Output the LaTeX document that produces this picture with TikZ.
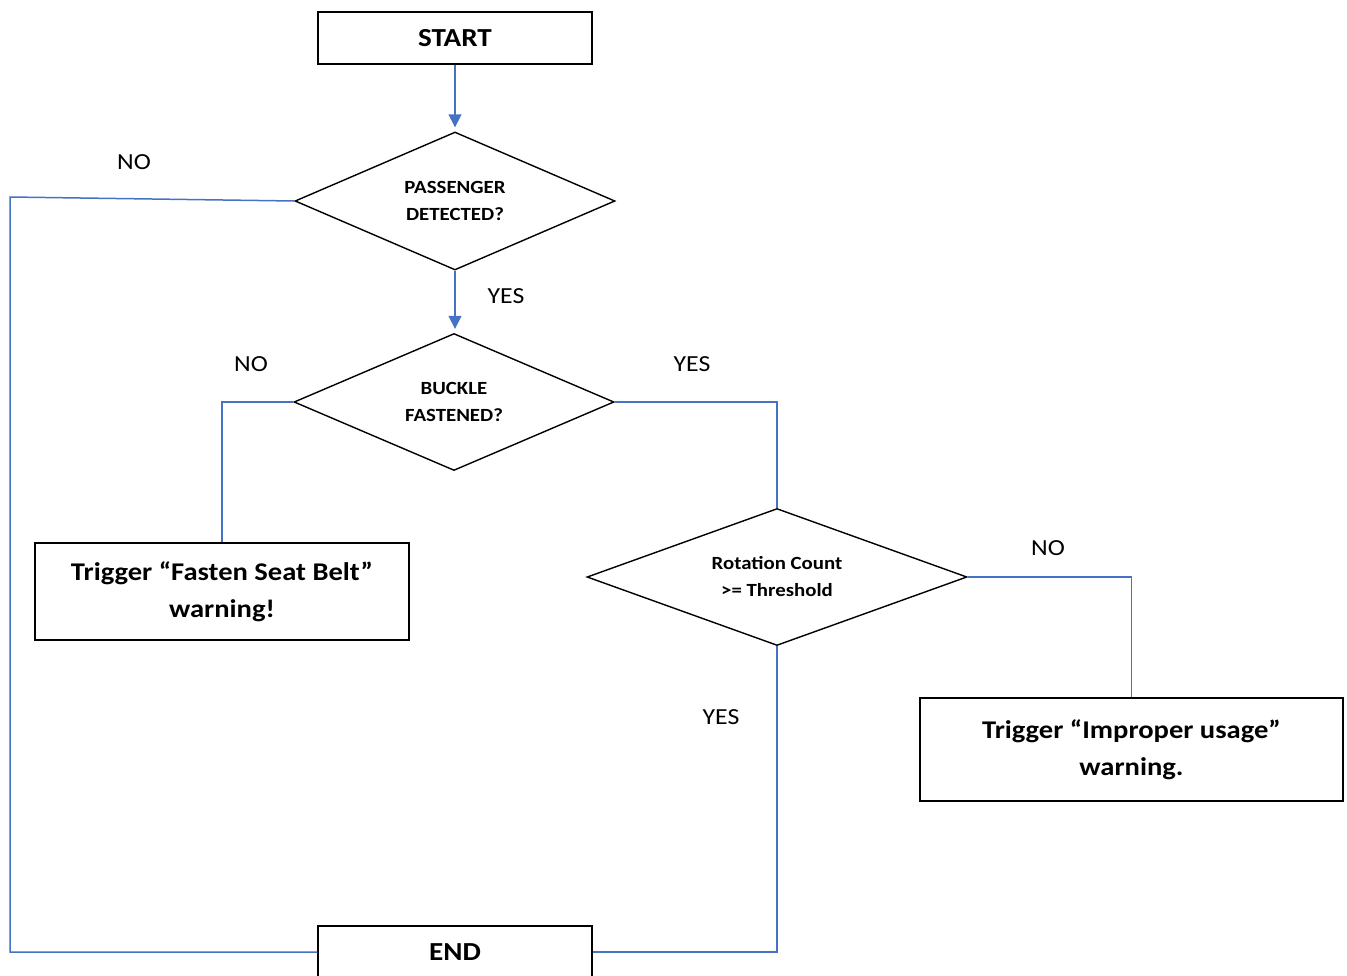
\documentclass[tikz,border=0pt]{standalone}
\usepackage{fontspec}
\setmainfont[FakeStretch=1.12]{Carlito}
\usetikzlibrary{shapes.geometric,arrows.meta}
\definecolor{lineblue}{HTML}{4472C4}
\begin{document}
\begin{tikzpicture}[x=1pt,y=-1pt,
  termbox/.style={draw=black,line width=1.4pt,minimum width=274pt,minimum height=52pt,inner sep=0pt,font=\fontsize{26}{30}\selectfont\bfseries},
  actbox/.style={draw=black,line width=1.4pt,inner sep=0pt,align=center,font=\fontsize{25.5}{37}\selectfont\bfseries},
  dec/.style={diamond,draw=black,line width=1.4pt,inner sep=0pt,align=center,font=\fontsize{18.6}{27}\selectfont\bfseries},
  conn/.style={draw=lineblue,line width=1.5pt},
  arr/.style={conn,-{Triangle[width=13pt,length=13pt]},shorten >=4pt},
  lbl/.style={inner sep=0pt,font=\fontsize{23}{26}\selectfont}
]
\useasboundingbox (0,0) rectangle (1347,975);
\node[termbox] (start) at (455,38) {START};
\node[dec,minimum width=320pt,minimum height=138pt,aspect=2.32] (d1) at (455,201) {PASSENGER\\DETECTED?};
\node[dec,minimum width=320pt,minimum height=137pt,aspect=2.33] (d2) at (454,402) {BUCKLE\\FASTENED?};
\node[dec,minimum width=380pt,minimum height=137pt,aspect=2.77] (d3) at (777,577) {Rotation Count\\>= Threshold};
\node[actbox,minimum width=374pt,minimum height=97pt] (fasten) at (222,591.5) {Trigger “Fasten Seat Belt”\\warning!};
\node[actbox,minimum width=423pt,minimum height=103pt] (improper) at (1131.5,749.5) {Trigger “Improper usage”\\warning.};
\node[termbox] (end) at (455,952) {END};

\node[lbl] (no1) at (134,162) {NO};
\node[lbl] (yes1) at (506,296) {YES};
\node[lbl] (no2) at (251,364) {NO};
\node[lbl] (yes2) at (692,364) {YES};
\node[lbl] (no3) at (1048,548) {NO};
\node[lbl] (yes3) at (721,717) {YES};

\coordinate (lc) at (10,197);

\draw[arr] (start.south) -- (d1.north);
\draw[arr] (d1.south) -- (d1.south |- d2.north);
\draw[conn] (d1.west) -- (lc) -- (lc |- end.west) -- (end.west);
\draw[conn] (d2.west) -- (d2.west -| fasten.north) -- (fasten.north);
\draw[conn] (d2.east) -- (d2.east -| d3.north) -- (d3.north);
\draw[conn] (d3.east) -- (d3.east -| improper.north) -- (improper.north);
\draw[conn] (d3.south) -- (d3.south |- end.east) -- (end.east);
\end{tikzpicture}
\end{document}
